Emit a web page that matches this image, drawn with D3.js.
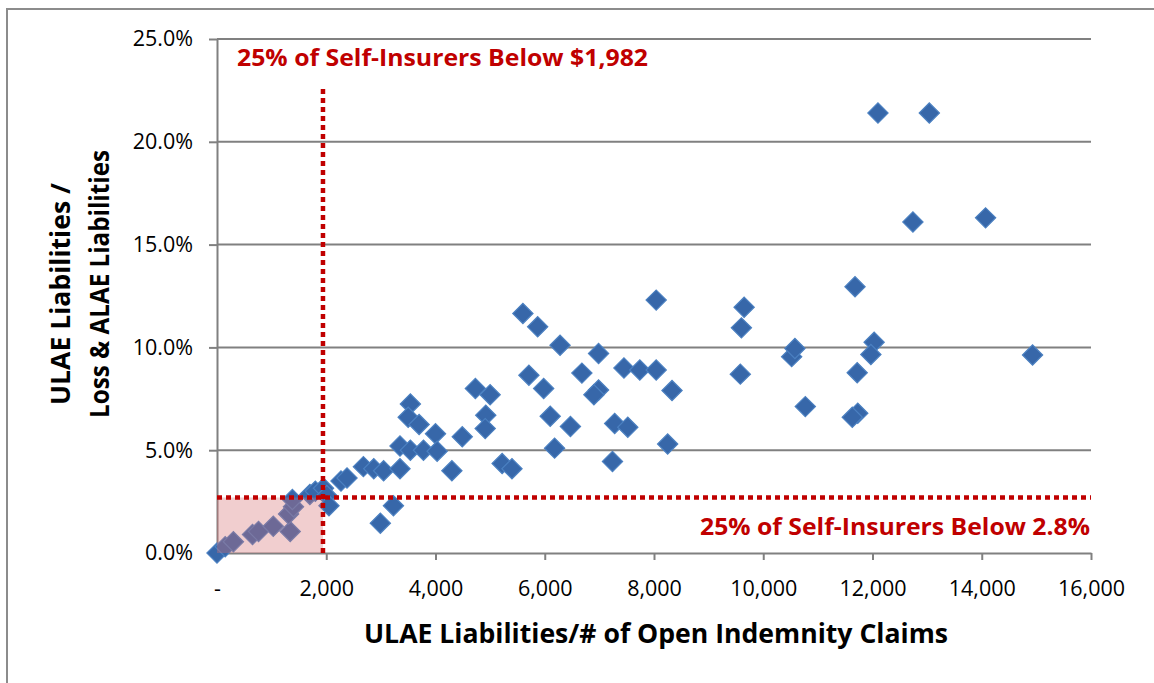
<!DOCTYPE html>
<html>
<head>
<meta charset="utf-8">
<script src="https://cdn.jsdelivr.net/npm/d3@7"></script>
<style>
  body { margin: 0; background: #fff; }
  text { font-family: "Open Sans", "Liberation Sans", sans-serif; }
</style>
</head>
<body>
<div id="chart"></div>
<script>
// ULAE per open claim vs ULAE ratio, self-insurers

// x: ULAE liabilities / # of open indemnity claims
var costPerClaim = [
    0, 150, 300, 650, 760, 1030, 1340, 1310, 1400, 1380,
    1700, 1800, 1950, 2010, 2050, 2270, 2380, 2680, 2870, 3050,
    3350, 2990, 3230, 3350, 3540, 3540, 3500, 3700, 3780, 4000,
    4030, 4300, 4490, 4730, 5000, 4920, 4910, 5220, 5400, 5600,
    5870, 5710, 5980, 6280, 6100, 6470, 6180, 6680, 6985, 6985,
    6900, 7450, 7740, 8040, 8330, 7280, 7520, 7240, 8250, 8040,
    9650, 9600, 9580, 10520, 10580, 10770, 11680, 12030, 11970, 11720,
    11730, 11630, 14930, 12100, 13040, 12740, 14070
];
// y: ULAE liabilities / loss & ALAE liabilities (%)
var ulaeRatio = [
    0, 0.3, 0.55, 0.9, 1.05, 1.3, 1.05, 1.9, 2.25, 2.6,
    2.85, 3.0, 3.15, 2.8, 2.3, 3.5, 3.65, 4.2, 4.1, 4.0,
    4.1, 1.45, 2.3, 5.2, 5.0, 7.25, 6.6, 6.25, 5.0, 5.8,
    4.95, 4.0, 5.65, 8.0, 7.7, 6.7, 6.05, 4.35, 4.1, 11.65,
    11.0, 8.65, 8.0, 10.1, 6.65, 6.15, 5.1, 8.75, 9.7, 7.93,
    7.7, 9.0, 8.9, 8.9, 7.9, 6.3, 6.12, 4.45, 5.3, 12.3,
    11.95, 10.95, 8.7, 9.55, 9.95, 7.12, 12.95, 10.25, 9.65, 8.77,
    6.8, 6.6, 9.63, 21.4, 21.4, 16.1, 16.3
];

var xTicks = [0, 2000, 4000, 6000, 8000, 10000, 12000, 14000, 16000];
var yTicks = [0, 5, 10, 15, 20, 25];

// quartile thresholds as drawn
var xQuartile = 1940;
var yQuartile = 2.7;

var width = 1154;
var height = 683;
var red = "#c00000";
var grid = "#808080";

var svg = d3.select('#chart').append('svg')
    .attr('width', width)
    .attr('height', height);

// outer chart border (runs off the right / bottom edge)
svg.append("rect")
    .attr("x", 7)
    .attr("y", 9)
    .attr("width", width + 20)
    .attr("height", height + 20)
    .attr("fill", "#fff")
    .attr("stroke", "#8c8c8c")
    .attr("stroke-width", 2);

var x = d3.scaleLinear().domain([0, 16000]).range([217, 1091]);
var y = d3.scaleLinear().domain([0, 25]).range([553, 39]);

// horizontal gridlines
svg.append("g").selectAll("line")
    .data(yTicks.filter(function (d) { return d > 0; }))
    .enter().append("line")
    .attr("x1", x(0))
    .attr("x2", x(16000))
    .attr("y1", function (d) { return y(d); })
    .attr("y2", function (d) { return y(d); })
    .attr("stroke", grid)
    .attr("stroke-width", 2);

// y axis
var yAxis = d3.axisLeft(y)
    .tickValues(yTicks)
    .tickSize(8)
    .tickSizeOuter(0)
    .tickPadding(16)
    .tickFormat(function (d) { return d3.format(".1f")(d) + "%"; });

var gy = svg.append("g")
    .attr("transform", "translate(" + x(0) + ",0)")
    .call(yAxis);

// x axis
var xAxis = d3.axisBottom(x)
    .tickValues(xTicks)
    .tickSize(7)
    .tickSizeOuter(0)
    .tickPadding(21)
    .tickFormat(function (d) { return d === 0 ? "-" : d3.format(",")(d); });

var gx = svg.append("g")
    .attr("transform", "translate(0," + y(0) + ")")
    .call(xAxis);

[gx, gy].forEach(function (g) {
    g.select(".domain").attr("stroke", grid).attr("stroke-width", 2);
    g.selectAll(".tick line").attr("stroke", grid).attr("stroke-width", 2);
    g.selectAll(".tick text")
        .attr("fill", "#000")
        .style("font-size", "21.5px");
});

// scatter points (diamonds)
var points = costPerClaim.map(function (v, i) { return [v, ulaeRatio[i]]; });
var diamond = d3.symbol().type(d3.symbolSquare).size(205);

svg.append("g").selectAll("path")
    .data(points)
    .enter().append("path")
    .attr("d", diamond)
    .attr("transform", function (d) {
        return "translate(" + x(d[0]) + "," + y(d[1]) + ") rotate(45)";
    })
    .attr("fill", "#3767a9")
    .attr("stroke", "#4b80c1")
    .attr("stroke-width", 1.2);

// shaded bottom quartile box
svg.append("rect")
    .attr("x", x(0))
    .attr("y", y(yQuartile))
    .attr("width", x(xQuartile) - x(0))
    .attr("height", y(0) - y(yQuartile))
    .attr("fill", "rgba(215, 110, 115, 0.34)");

// dotted quartile lines
svg.append("line")
    .attr("x1", x(xQuartile))
    .attr("x2", x(xQuartile))
    .attr("y1", 89)
    .attr("y2", y(0))
    .attr("stroke", red)
    .attr("stroke-width", 4.5)
    .attr("stroke-dasharray", "5,4");

svg.append("line")
    .attr("x1", x(0))
    .attr("x2", x(16000))
    .attr("y1", y(yQuartile))
    .attr("y2", y(yQuartile))
    .attr("stroke", red)
    .attr("stroke-width", 4.5)
    .attr("stroke-dasharray", "5,4");

// annotations
svg.append("text")
    .attr("x", 237)
    .attr("y", 66)
    .attr("fill", red)
    .attr("font-weight", "bold")
    .attr("font-size", "24px")
    .attr("textLength", 411)
    .attr("lengthAdjust", "spacingAndGlyphs")
    .text("25% of Self-Insurers Below $1,982");

svg.append("text")
    .attr("x", 700)
    .attr("y", 535)
    .attr("fill", red)
    .attr("font-weight", "bold")
    .attr("font-size", "24px")
    .attr("textLength", 390)
    .attr("lengthAdjust", "spacingAndGlyphs")
    .text("25% of Self-Insurers Below 2.8%");

// axis titles
svg.append("text")
    .attr("x", 364)
    .attr("y", 643)
    .attr("fill", "#000")
    .attr("font-weight", "bold")
    .attr("font-size", "26px")
    .attr("textLength", 584)
    .attr("lengthAdjust", "spacingAndGlyphs")
    .text("ULAE Liabilities/# of Open Indemnity Claims");

svg.append("text")
    .attr("transform", "translate(70,294) rotate(-90)")
    .attr("text-anchor", "middle")
    .attr("fill", "#000")
    .attr("font-weight", "bold")
    .attr("font-size", "26px")
    .attr("textLength", 222)
    .attr("lengthAdjust", "spacingAndGlyphs")
    .text("ULAE Liabilities /");

svg.append("text")
    .attr("transform", "translate(109,284) rotate(-90)")
    .attr("text-anchor", "middle")
    .attr("fill", "#000")
    .attr("font-weight", "bold")
    .attr("font-size", "26px")
    .attr("textLength", 268)
    .attr("lengthAdjust", "spacingAndGlyphs")
    .text("Loss & ALAE Liabilities");
</script>
</body>
</html>
